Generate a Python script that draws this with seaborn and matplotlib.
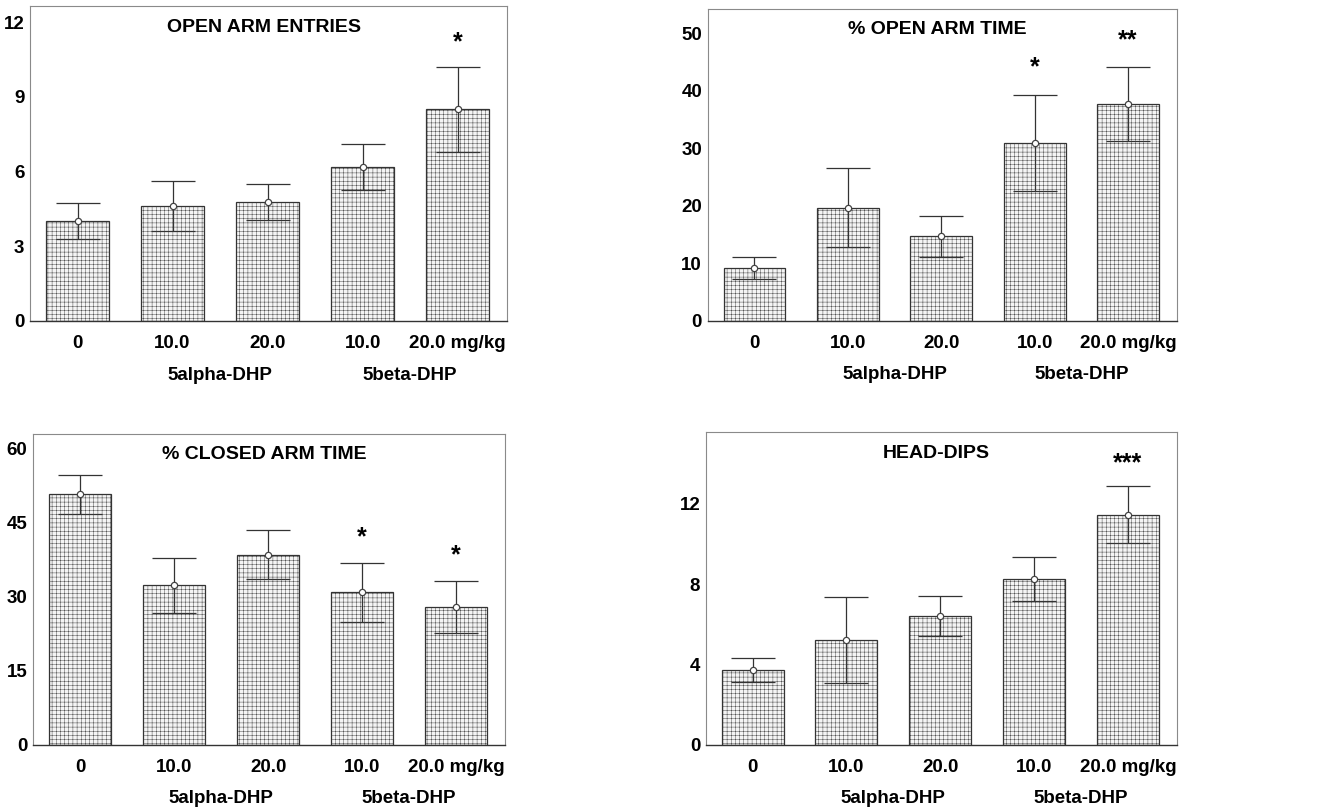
import matplotlib
matplotlib.use("Agg")
import matplotlib.pyplot as plt
import matplotlib.transforms as mtransforms
import seaborn as sns
import pandas as pd

sns.set_style("white")
plt.rcParams['font.family'] = ['Liberation Sans', 'DejaVu Sans']
plt.rcParams['font.weight'] = 'bold'
plt.rcParams['text.color'] = 'black'
plt.rcParams['xtick.color'] = 'black'
plt.rcParams['ytick.color'] = 'black'
plt.rcParams['hatch.color'] = '#d2d2d2'
plt.rcParams['hatch.linewidth'] = 0.3

# ---- data ----
categories = ["veh 0", "5a 10.0", "5a 20.0", "5b 10.0", "5b 20.0"]
tick_labels = ["0", "10.0", "20.0", "10.0", "20.0 mg/kg"]
group_labels = ["5alpha-DHP", "5beta-DHP"]

titles = ["OPEN ARM ENTRIES", "% OPEN ARM TIME", "% CLOSED ARM TIME", "HEAD-DIPS"]

open_entries_mean = [4.0, 4.63, 4.78, 6.18, 8.5]
open_entries_sem = [0.72, 1.0, 0.71, 0.92, 1.70]
open_entries_stars = ["", "", "", "", "*"]

open_time_mean = [9.2, 19.7, 14.7, 30.9, 37.7]
open_time_sem = [1.9, 6.9, 3.5, 8.4, 6.4]
open_time_stars = ["", "", "", "*", "**"]

closed_time_mean = [50.7, 32.3, 38.5, 30.9, 27.9]
closed_time_sem = [3.9, 5.6, 4.9, 6.0, 5.3]
closed_time_stars = ["", "", "", "*", "*"]

head_dips_mean = [3.72, 5.23, 6.44, 8.25, 11.47]
head_dips_sem = [0.6, 2.12, 1.0, 1.1, 1.41]
head_dips_stars = ["", "", "", "", "***"]

yticks = [[0, 3, 6, 9, 12], [0, 10, 20, 30, 40, 50], [0, 15, 30, 45, 60], [0, 4, 8, 12]]
ylims = [12.65, 54.2, 62.9, 15.57]
star_y = [[None, None, None, None, 11.2], [None, None, None, 44.0, 48.8],
          [None, None, None, 42.0, 38.3], [None, None, None, None, 14.0]]

means = [open_entries_mean, open_time_mean, closed_time_mean, head_dips_mean]
sems = [open_entries_sem, open_time_sem, closed_time_sem, head_dips_sem]
stars = [open_entries_stars, open_time_stars, closed_time_stars, head_dips_stars]

positions = [
    [0.0227, 0.6042, 0.3608, 0.3884],
    [0.5353, 0.6042, 0.3548, 0.3847],
    [0.0250, 0.0814, 0.3570, 0.3835],
    [0.5338, 0.0814, 0.3563, 0.3856],
]

fig = plt.figure(figsize=(13.22, 8.11), dpi=100)

for i in range(4):
    ax = fig.add_axes(positions[i])
    df = pd.DataFrame({"group": categories, "value": means[i]})
    sns.barplot(data=df, x="group", y="value", ax=ax, color="#f4f4f4",
                width=0.66, errorbar=None, edgecolor="#333333", linewidth=0.9,
                saturation=1)
    for p in ax.patches:
        p.set_hatch("++++")
        p.set_edgecolor("#333333")
    xs = list(range(len(categories)))
    ax.errorbar(xs, means[i], yerr=sems[i], fmt="o", ms=4.5, mfc="white",
                mec="#444444", mew=0.9, ecolor="#333333", elinewidth=0.9,
                capsize=15.5, capthick=0.9, zorder=5)
    for j, s in enumerate(stars[i]):
        if s:
            ax.text(xs[j], star_y[i][j], s, ha="center", va="center",
                    fontsize=18, fontweight="bold", color="black")
    ax.set_xlim(-0.5, 4.52)
    ax.set_ylim(0, ylims[i])
    ax.set_yticks(yticks[i])
    ax.set_yticklabels([str(t) for t in yticks[i]], fontsize=13.5, fontweight="bold")
    ax.set_xticks(xs)
    ax.set_xticklabels(tick_labels, fontsize=13.5, fontweight="bold")
    ax.tick_params(axis="x", length=0, pad=10)
    ax.tick_params(axis="y", length=0, pad=4)
    ax.set_xlabel("")
    ax.set_ylabel("")
    for side in ["top", "right", "left"]:
        ax.spines[side].set_color("#8a8a8a")
        ax.spines[side].set_linewidth(0.8)
        ax.spines[side].set_visible(True)
    ax.spines["bottom"].set_color("#333333")
    ax.spines["bottom"].set_linewidth(1.0)
    ax.spines["bottom"].set_visible(True)
    ax.text(0.49, 0.96, titles[i], transform=ax.transAxes, ha="center", va="top",
            fontsize=14, fontweight="bold")
    trans = mtransforms.blended_transform_factory(ax.transData, ax.transAxes)
    ax.text(1.5, -0.145, group_labels[0], transform=trans, ha="center", va="top",
            fontsize=13.5, fontweight="bold")
    ax.text(3.5, -0.145, group_labels[1], transform=trans, ha="center", va="top",
            fontsize=13.5, fontweight="bold")

fig.savefig("out.png", dpi=100)
